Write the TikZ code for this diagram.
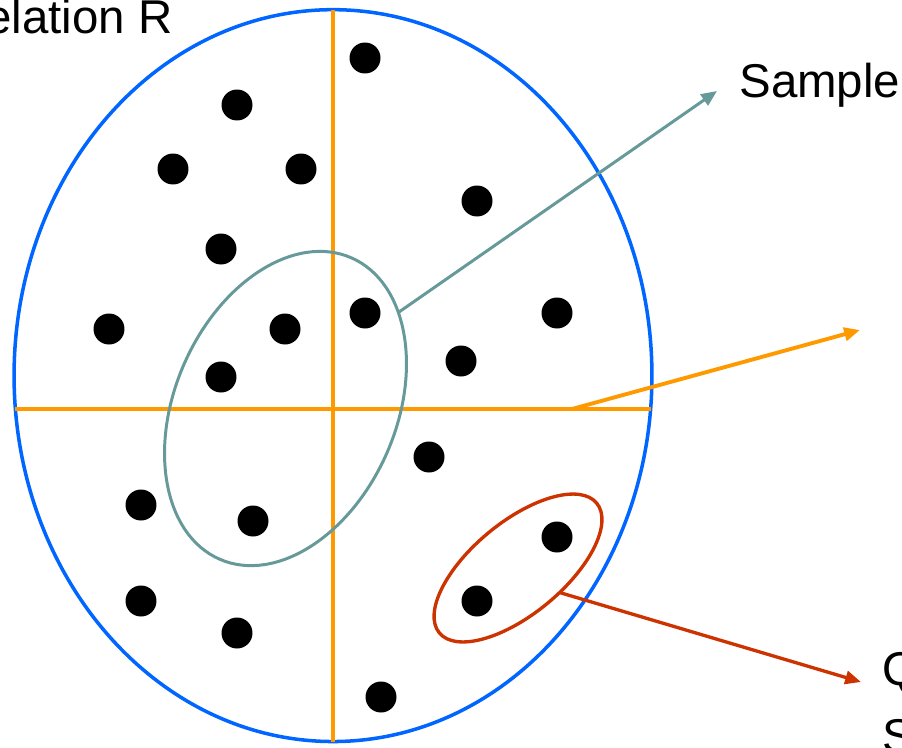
\documentclass[tikz,border=0pt]{standalone}
\usepackage{fontspec}
\setsansfont{Liberation Sans}
\usetikzlibrary{arrows.meta, shapes.geometric}
\definecolor{relBlue}{HTML}{0066FF}
\definecolor{strataOrange}{HTML}{FF9900}
\definecolor{sampleTeal}{HTML}{669999}
\definecolor{queryRed}{HTML}{CC3300}
\tikzset{
  lbl/.style={font=\sffamily\fontsize{27}{38}\selectfont, text=black, inner sep=0pt, align=left},
  tuple/.style={circle, fill=black, draw=none, minimum size=0.62cm, inner sep=0pt},
  region/.style={ellipse, fill=none, inner sep=0pt, outer sep=0pt},
  strataline/.style={draw=strataOrange, line width=2.2pt},
  pointer/.style={-{Triangle[length=9pt, width=7.5pt]}, line width=1.9pt},
}

\begin{document}
\begin{tikzpicture}[x=0.02cm, y=-0.02cm]
\useasboundingbox (0,0) rectangle (902,747);
\clip (0,0) rectangle (902,747);

% relation and its strata
\node[region, draw=relBlue, line width=2pt, minimum width=12.76cm, minimum height=14.64cm] (rel) at (333,375.6) {};
\draw[strataline] (rel.north) -- (rel.south);
\draw[strataline] (rel.186) -- (rel.-6);

% tuples
\foreach \px/\py [count=\i] in {365/58, 237/105, 173/169, 301/169, 477/201, 221/249,
    109/329, 285/329, 365/313, 557/313, 461/361, 221/377, 429/457, 141/505,
    253/521, 557/537, 477/601, 141/601, 237/633, 381/697}
  \node[tuple] (t\i) at (\px,\py) {};

% sample and query regions
\node[region, draw=sampleTeal, line width=1.7pt, rotate=66.4,
      minimum width=6.58cm, minimum height=4.43cm] (smp) at (285.5,408.5) {};
\node[region, draw=queryRed, line width=1.9pt, rotate=39.5,
      minimum width=4.08cm, minimum height=1.84cm] (qry) at (518,568) {};

% labels
\node[lbl, anchor=base east] (rellbl) at (173,33) {Relation R};
\node[lbl, anchor=base west] (smplbl) at (739,97) {Sample};
\node[lbl, anchor=base west] (qrylbl) at (882,752) {Query\\Selection};

% pointers
\coordinate (smptip) at (717,91);
\coordinate (cut) at (572,409);
\coordinate (cuttip) at (860,330);
\coordinate (qrytip) at (861,682);
\draw[pointer, sampleTeal, line width=1.7pt] (smp.-26) -- (smptip);
\draw[pointer, strataOrange, line width=2.2pt] (cut) -- (cuttip);
\draw[pointer, queryRed] (qry.-70) -- (qrytip);
\end{tikzpicture}
\end{document}
